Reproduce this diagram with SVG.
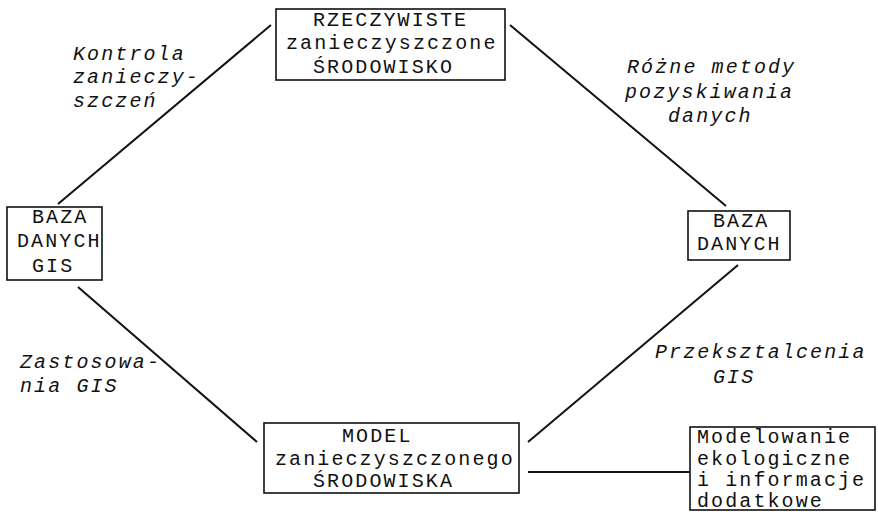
<svg xmlns="http://www.w3.org/2000/svg" width="878" height="519" viewBox="0 0 878 519">
<style>
text{font-family:"Liberation Mono","DejaVu Sans Mono",monospace;font-size:20px;letter-spacing:2.1px;fill:#111}
.it{font-style:italic}
.box{fill:#fff;stroke:#111;stroke-width:1.6}
.ln{stroke:#111;stroke-width:2;fill:none}
</style>
<rect width="878" height="519" fill="#fff"/>
<g id="connectors">
<line class="ln" x1="271" y1="25" x2="58" y2="204"/>
<line class="ln" x1="510" y1="25" x2="726" y2="206"/>
<line class="ln" x1="78" y1="287" x2="257" y2="442"/>
<line class="ln" x1="528" y1="442" x2="738" y2="265"/>
<line class="ln" x1="528" y1="472" x2="690" y2="472"/>
</g>
<g id="top">
<rect class="box" x="276" y="9" width="229" height="71"/>
<text x="313" y="26">RZECZYWISTE</text>
<text x="286" y="49">zanieczyszczone</text>
<text x="313" y="73">ŚRODOWISKO</text>
</g>
<g id="left">
<rect class="box" x="7" y="207" width="95" height="73"/>
<text x="32" y="223">BAZA</text>
<text x="17" y="247">DANYCH</text>
<text x="32" y="272">GIS</text>
</g>
<g id="right">
<rect class="box" x="688" y="211" width="102" height="49"/>
<text x="713" y="227">BAZA</text>
<text x="697" y="250">DANYCH</text>
</g>
<g id="model">
<rect class="box" x="264" y="423" width="255" height="70"/>
<text x="342" y="442">MODEL</text>
<text x="275" y="465">zanieczyszczonego</text>
<text x="313" y="487">ŚRODOWISKA</text>
</g>
<g id="eco">
<rect class="box" x="690" y="427" width="185" height="83"/>
<text x="697" y="443">Modelowanie</text>
<text x="697" y="465">ekologiczne</text>
<text x="697" y="486">i informacje</text>
<text x="697" y="507">dodatkowe</text>
</g>
<g id="labels">
<text class="it" x="73" y="60">Kontrola</text>
<text class="it" x="73" y="83">zanieczy-</text>
<text class="it" x="73" y="107">szczeń</text>
<text class="it" x="627" y="73">Różne metody</text>
<text class="it" x="625" y="98">pozyskiwania</text>
<text class="it" x="668" y="122">danych</text>
<text class="it" x="20" y="368">Zastosowa-</text>
<text class="it" x="20" y="392">nia GIS</text>
<text class="it" x="655" y="358">Przeksztalcenia</text>
<text class="it" x="713" y="383">GIS</text>
</g>
</svg>
